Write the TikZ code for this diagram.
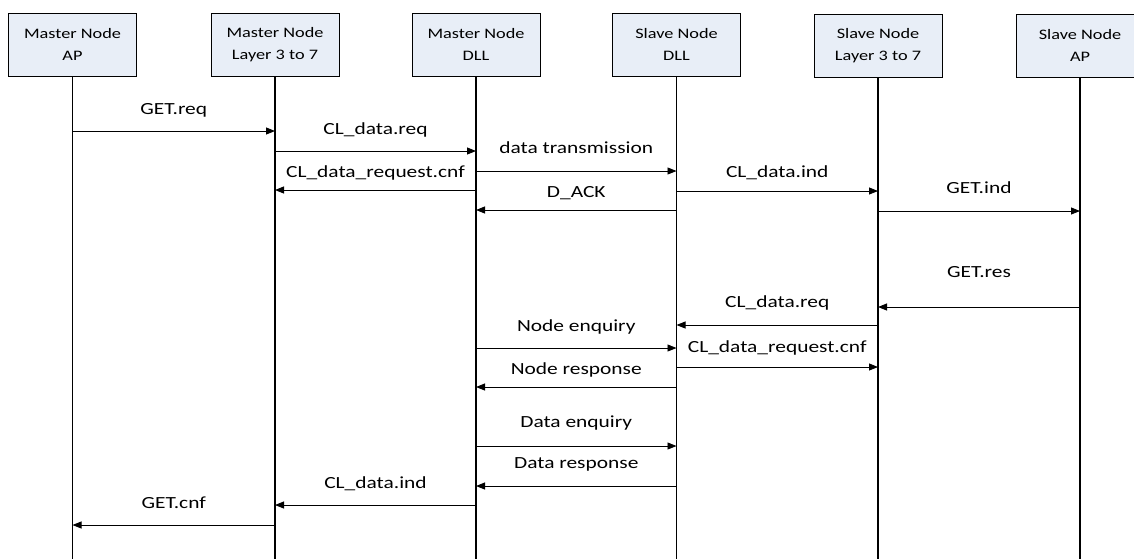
\documentclass[tikz,border=0pt]{standalone}
\usepackage{fontspec}
\setmainfont{Carlito}[FakeStretch=1.26]
\usetikzlibrary{arrows.meta}
\definecolor{boxfill}{RGB}{232,238,247}
\tikzset{
  actor/.style={draw=black, line width=0.9pt, fill=boxfill, minimum width=128pt,
    minimum height=63pt, inner sep=0pt, align=center,
    font=\fontsize{14.5}{22}\selectfont},
  lifeline/.style={line width=1.8pt},
  msgarrow/.style={line width=0.9pt, -{Triangle[length=9pt,width=7pt]}},
  msglabel/.style={font=\fontsize{17}{20}\selectfont, inner sep=0pt}
}
% \msg{name}{from}{to}{line y}{label y}{text}
\newcommand{\msg}[6]{%
  \draw[msgarrow] (#2 |- 0,#4) -- (#3 |- 0,#4)
    node[msglabel, midway, yshift=#4pt-#5pt] (#1) {#6};}
\begin{document}
\begin{tikzpicture}[x=1pt, y=-1pt]
  \useasboundingbox (0,0) rectangle (1134,558);
  % participants
  \node[actor] (map) at (72.5,44.5) {Master Node\\AP};
  \node[actor] (mlay) at (275,44.5) {Master Node\\Layer 3 to 7};
  \node[actor] (mdll) at (476,44.5) {Master Node\\DLL};
  \node[actor] (sdll) at (676.5,44.5) {Slave Node\\DLL};
  \node[actor] (slay) at (878,45.5) {Slave Node\\Layer 3 to 7};
  \node[actor] (sap) at (1080,45.5) {Slave Node\\AP};
  % lifelines
  \foreach \n in {map,mlay,mdll,sdll,slay,sap}{
    \coordinate (\n-end) at (\n.south |- 0,560);
    \draw[lifeline] (\n.south) -- (\n-end);
  }
  % messages
  \msg{l1}{map}{mlay}{131}{110}{GET.req}
  \msg{l2}{mlay}{mdll}{151}{130}{CL\_data.req}
  \msg{l3}{mdll}{sdll}{171}{148}{data transmission}
  \msg{l4}{mdll}{mlay}{190}{173}{CL\_data\_request.cnf}
  \msg{l5}{sdll}{mdll}{210}{193}{D\_ACK}
  \msg{l6}{sdll}{slay}{191}{173}{CL\_data.ind}
  \msg{l7}{slay}{sap}{211}{188}{GET.ind}
  \msg{l8}{sap}{slay}{307}{272}{GET.res}
  \msg{l9}{slay}{sdll}{325}{303}{CL\_data.req}
  \msg{l10}{mdll}{sdll}{348}{327}{Node enquiry}
  \msg{l11}{sdll}{slay}{367}{348}{CL\_data\_request.cnf}
  \msg{l12}{sdll}{mdll}{387}{370}{Node response}
  \msg{l13}{mdll}{sdll}{446}{423}{Data enquiry}
  \msg{l14}{sdll}{mdll}{486}{464}{Data response}
  \msg{l15}{mdll}{mlay}{505}{484}{CL\_data.ind}
  \msg{l16}{mlay}{map}{525}{503}{GET.cnf}
\end{tikzpicture}
\end{document}
